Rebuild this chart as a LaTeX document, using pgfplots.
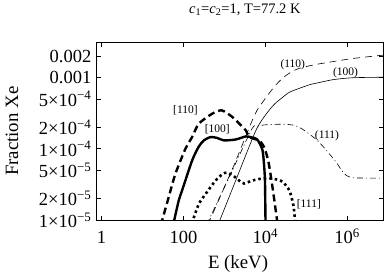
\documentclass[border=0pt]{standalone}
\usepackage{pgfplots}
\pgfplotsset{compat=1.18}
\usepackage{fontspec}
\setmainfont{Liberation Serif}
\begin{document}
\begin{tikzpicture}
\begin{loglogaxis}[
  width=286.5pt, height=177.5pt, scale only axis,
  xmin=0.75, xmax=7.55e6, ymin=1e-5, ymax=3.1e-3,
  xtick={1,100,1e4,1e6},
  xticklabels={1,100,10\textsuperscript{4},10\textsuperscript{6}},
  ytick={1e-5,2e-5,5e-5,1e-4,2e-4,5e-4,1e-3,2e-3},
  yticklabels={1×10\textsuperscript{−5},2×10\textsuperscript{−5},5×10\textsuperscript{−5},1×10\textsuperscript{−4},2×10\textsuperscript{−4},5×10\textsuperscript{−4},0.001,0.002},
  xminorticks=false, yminorticks=false,
  tick align=inside, major tick length=4.5pt,
  every tick/.style={black, line width=0.7pt},
  axis line style={line width=0.8pt},
  tick label style={font=\fontsize{18.5}{20}\selectfont},
  xticklabel style={anchor=base, yshift=-23.5pt, inner sep=0pt},
  yticklabel style={anchor=east, inner sep=0pt, xshift=-5pt},
  xlabel={E (keV)}, ylabel={Fraction Xe},
  every axis x label/.style={at={(axis description cs:0.494,-0.248)}, anchor=center, font=\fontsize{18.8}{20}\selectfont},
  every axis y label/.style={at={(axis description cs:-0.295,0.5)}, rotate=90, anchor=center, font=\fontsize{18.8}{20}\selectfont},
  title={\textit{c}\textsubscript{1}=\textit{c}\textsubscript{2}=1, T=77.2 K},
  every axis title/.style={at={(axis description cs:0.518,1)}, anchor=base, yshift=29pt, font=\fontsize{14.5}{16}\selectfont},
  every axis plot/.append style={black, smooth, tension=0.4},
]
\coordinate (sw) at (rel axis cs:0,0);
\coordinate (ne) at (rel axis cs:1,1);
% [110] thick dashed
\addplot[line width=2.4pt, dash pattern=on 7pt off 4pt] coordinates {
(28,8.5e-6) (43.5,2.08e-5) (63.5,4.44e-5) (112,1.0e-4) (163,1.46e-4) (238,2.25e-4)
(506,3.11e-4) (861,3.46e-4) (1567,2.79e-4) (3350,1.81e-4) (4036,1.46e-4) (7110,1.3e-4)
(9441,1.05e-4) (12000,6.5e-5) (15140,2.8e-5) (19400,1e-5) (20500,8e-6)};
% [100] thick solid
\addplot[line width=2.4pt] coordinates {
(56,8.5e-6) (76.6,1.87e-5) (92.5,2.59e-5) (163,6.84e-5) (238,1.077e-4) (316,1.31e-4)
(461,1.46e-4) (659,1.42e-4) (980,1.31e-4) (1901,1.35e-4) (3350,1.49e-4) (4786,1.44e-4)
(6353,1.35e-4) (8590,9.46e-5) (9727,4.21e-5) (10000,1.87e-5) (10170,8e-6)};
% [111] thick dotted
\addplot[line width=2.6pt, dash pattern=on 2.5pt off 3pt] coordinates {
(160,9e-6) (238,1.68e-5) (348,2.32e-5) (612,3.58e-5) (900,4.4e-5) (1162,4.63e-5)
(1633,4.21e-5) (2291,3.58e-5) (3041,3.25e-5) (4786,3.58e-5) (8440,3.82e-5) (14860,3.82e-5)
(26180,3.46e-5) (38900,2.59e-5) (48840,1.59e-5) (54700,8.5e-6)};
% (110) thin dashed
\addplot[line width=0.6pt, dash pattern=on 7pt off 5pt] coordinates {
(398,8.6e-6) (444,1e-5) (1570,5.2e-5) (3350,1.5e-4) (4446,2.25e-4) (6310,3.47e-4)
(10470,5.25e-4) (16600,7.41e-4) (26300,9.77e-4) (43650,1.2e-3) (69180,1.35e-3)
(158500,1.51e-3) (446700,1.67e-3) (1.38e6,1.85e-3) (7.55e6,2.06e-3)};
% (100) thin solid
\addplot[line width=0.6pt] coordinates {
(700,8.5e-6) (782,1e-5) (2000,3.87e-5) (5902,1.81e-4) (10400,3.04e-4) (16650,4.21e-4)
(26670,5.28e-4) (38900,6.21e-4) (68550,7.06e-4) (120800,7.92e-4) (176600,8.32e-4)
(444600,9.31e-4) (1.38e6,9.93e-4) (7.55e6,1.009e-3)};
% (111) thin dash-dot
\addplot[line width=0.6pt, dash pattern=on 6pt off 3pt on 1pt off 3pt] coordinates {
(380,8.9e-6) (419,1e-5) (1500,4.71e-5) (4786,1.93e-4) (6353,2.06e-4) (9441,2.16e-4)
(18320,2.2e-4) (29310,2.21e-4) (51640,2.13e-4) (82790,1.87e-4) (176600,1.35e-4)
(299200,9.77e-5) (548300,6.41e-5) (741300,4.94e-5) (966100,4.21e-5) (1.406e6,3.91e-5)
(2.723e6,3.88e-5) (7.55e6,3.88e-5)};
\begin{scope}[every node/.style={font=\fontsize{11.5}{12}\selectfont, inner sep=0pt, anchor=center}]
\node at (axis cs:112,3.46e-4) {[110]};
\node at (axis cs:671,1.85e-4) {[100]};
\node at (axis cs:116200,1.64e-5) {[111]};
\node at (axis cs:46990,1.49e-3) {(110)};
\node at (axis cs:914100,1.17e-3) {(100)};
\node at (axis cs:322100,1.54e-4) {(111)};
\end{scope}
\end{loglogaxis}
\pgfresetboundingbox
\path (sw) ++(-96.5pt,-58pt) rectangle ([shift={(3pt,42.5pt)}]ne);
\end{tikzpicture}
\end{document}
